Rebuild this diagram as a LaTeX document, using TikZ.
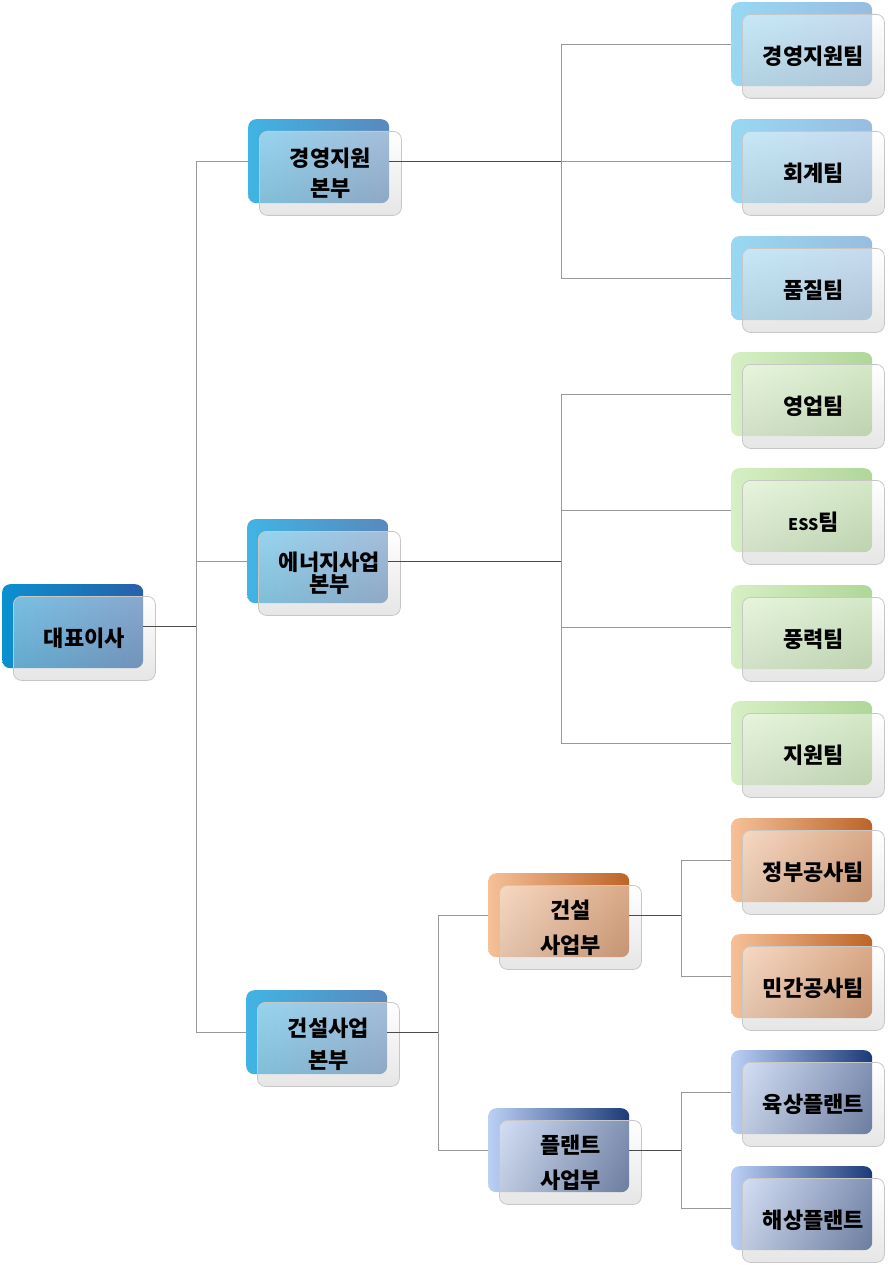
\documentclass[tikz,border=0pt]{standalone}
\usepackage{fontspec}
\newfontfamily\kr{Noto Sans CJK KR}
\usetikzlibrary{calc}
\definecolor{ceoL}{HTML}{0A90D0}\definecolor{ceoR}{HTML}{2860A8}
\definecolor{divL}{HTML}{40B4E4}\definecolor{divR}{HTML}{5A88BC}
\definecolor{tbL}{HTML}{98D8F2}\definecolor{tbR}{HTML}{98BCE0}
\definecolor{tgL}{HTML}{D6EFC4}\definecolor{tgR}{HTML}{B0D698}
\definecolor{toL}{HTML}{F6C098}\definecolor{toR}{HTML}{BC6428}
\definecolor{tpL}{HTML}{BCD0F6}\definecolor{tpR}{HTML}{1C3A78}
\tikzset{
  backbox/.style={draw=none, rounded corners=8pt, minimum width=141pt, minimum height=84pt, inner sep=0pt, anchor=north west},
  frontbox/.style={rounded corners=8pt, minimum width=142pt, minimum height=84pt, inner sep=0pt, anchor=north west,
     top color=white, bottom color=black!22, fill opacity=0.45, text opacity=1, draw=black!22, line width=0.8pt,
     align=center, font=\kr\bfseries\fontsize{22}{29}\selectfont},
  trunk/.style={draw=black!70, line width=0.9pt},
  branch/.style={draw=black!40, line width=0.9pt},
}
% #1 name, #2 x, #3 y, #4 left colour, #5 right colour, #6 extra front style, #7 text
\newcommand\orgbox[7]{%
  \node[backbox, left color=#4, right color=#5] (#1b) at (#2,#3) {};
  \node[frontbox, #6] (#1) at ([shift={(11,12)}]#2,#3) {#7};}
\begin{document}
\begin{tikzpicture}[x=1pt, y=-1pt]
\useasboundingbox (0,0) rectangle (888,1265);
% top level
\orgbox{ceo}{2}{584}{ceoL}{ceoR}{}{대표이사}
% divisions
\orgbox{da}{248}{119}{divL}{divR}{font=\kr\bfseries\fontsize{22}{30}\selectfont}{경영지원\\본부}
\orgbox{db}{247}{519}{divL}{divR}{font=\kr\bfseries\fontsize{22}{22}\selectfont}{에너지사업\\본부}
\orgbox{dc}{246}{990}{divL}{divR}{font=\kr\bfseries\fontsize{22}{32}\selectfont}{건설사업\\본부}
% sub divisions
\orgbox{sa}{488}{873}{toL}{toR}{font=\kr\bfseries\fontsize{22}{35}\selectfont}{건설\\사업부}
\orgbox{sb}{488}{1108}{tpL}{tpR}{font=\kr\bfseries\fontsize{22}{35}\selectfont}{플랜트\\사업부}
% teams
\orgbox{t1}{731}{2}{tbL}{tbR}{}{경영지원팀}
\orgbox{t2}{731}{119}{tbL}{tbR}{}{회계팀}
\orgbox{t3}{731}{236}{tbL}{tbR}{}{품질팀}
\orgbox{t4}{731}{352}{tgL}{tgR}{}{영업팀}
\orgbox{t5}{731}{468}{tgL}{tgR}{}{{\fontsize{16}{16}\selectfont ESS}팀}
\orgbox{t6}{731}{585}{tgL}{tgR}{}{풍력팀}
\orgbox{t7}{731}{701}{tgL}{tgR}{}{지원팀}
\orgbox{t8}{731}{818}{toL}{toR}{}{정부공사팀}
\orgbox{t9}{731}{934}{toL}{toR}{}{민간공사팀}
\orgbox{t10}{731}{1050}{tpL}{tpR}{}{육상플랜트}
\orgbox{t11}{731}{1166}{tpL}{tpR}{}{해상플랜트}
% junction x positions
\coordinate (xa) at (196,0);
\coordinate (xb) at (561,0);
\coordinate (xc) at (438,0);
\coordinate (xd) at (681,0);
\coordinate (j0) at (ceob.east -| xa);
\coordinate (j1) at (dab.east -| xb);
\coordinate (j2) at (dbb.east -| xb);
\coordinate (j3) at (dcb.east -| xc);
\coordinate (j4) at (sab.east -| xd);
\coordinate (j5) at (sbb.east -| xd);
% connectors
\draw[trunk] (ceob.east) -- (j0);
\draw[branch] (j0) |- (dab.west);
\draw[branch] (j0) |- (dbb.west);
\draw[branch] (j0) |- (dcb.west);
\draw[trunk] (dab.east) -- (j1);
\draw[branch] (j1) |- (t1b.west);
\draw[branch] (j1) |- (t2b.west);
\draw[branch] (j1) |- (t3b.west);
\draw[trunk] (dbb.east) -- (j2);
\draw[branch] (j2) |- (t4b.west);
\draw[branch] (j2) |- (t5b.west);
\draw[branch] (j2) |- (t6b.west);
\draw[branch] (j2) |- (t7b.west);
\draw[trunk] (dcb.east) -- (j3);
\draw[branch] (j3) |- (sab.west);
\draw[branch] (j3) |- (sbb.west);
\draw[trunk] (sab.east) -- (j4);
\draw[branch] (j4) |- (t8b.west);
\draw[branch] (j4) |- (t9b.west);
\draw[trunk] (sbb.east) -- (j5);
\draw[branch] (j5) |- (t10b.west);
\draw[branch] (j5) |- (t11b.west);
\end{tikzpicture}
\end{document}
